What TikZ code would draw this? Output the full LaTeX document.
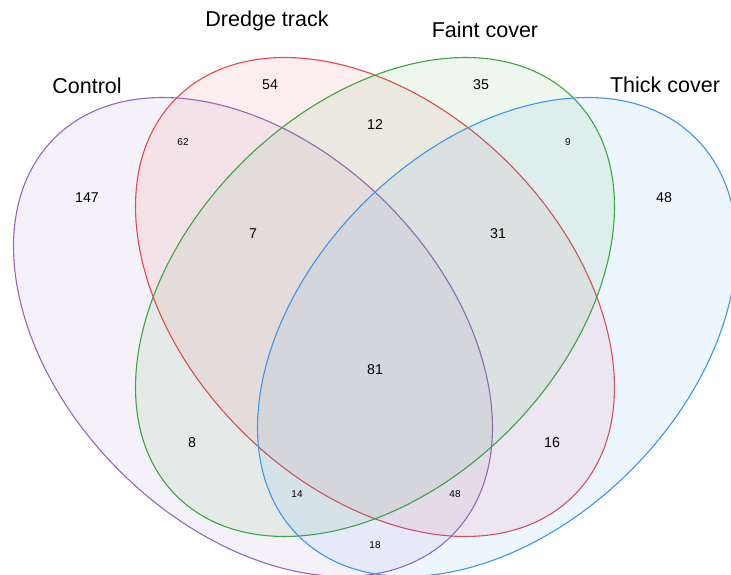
\documentclass[tikz,border=0pt]{standalone}
\usepackage{fontspec}
\setmainfont{Liberation Sans}
\definecolor{ctrlcol}{RGB}{148,103,189}
\definecolor{dredgecol}{RGB}{228,72,78}
\definecolor{faintcol}{RGB}{60,165,60}
\definecolor{thickcol}{RGB}{60,150,235}
\begin{document}
\begin{tikzpicture}[x=1pt,y=1pt,
    setname/.style={font=\fontsize{21.5}{24}\selectfont},
    count/.style={font=\fontsize{14.2}{16}\selectfont},
    tiny count/.style={font=\fontsize{10}{12}\selectfont},
    venn/.style={line width=1.1pt, draw=#1, fill=#1, fill opacity=0.09}]
    \useasboundingbox (0,0) rectangle (731,575);
    \clip (0,0) rectangle (731,575);

% the four sets
\draw[venn=ctrlcol]   (253,238) ellipse [x radius=281, y radius=189, rotate=-45];
\draw[venn=dredgecol] (375,278) ellipse [x radius=281, y radius=189, rotate=-45];
\draw[venn=faintcol]  (375,278) ellipse [x radius=281, y radius=189, rotate=45];
\draw[venn=thickcol]  (497,238) ellipse [x radius=281, y radius=189, rotate=45];

% set names
\node[setname] (ctrl) at (87,489) {Control};
\node[setname] (dredge) at (267,554) {Dredge track};
\node[setname] (faint) at (485,545) {Faint cover};
\node[setname] (thick) at (665,490) {Thick cover};

% counts
\node[count] (n1) at (87,377) {147};
\node[count] (n2) at (270,490) {54};
\node[count] (n3) at (481,490) {35};
\node[count] (n4) at (664,377) {48};
\node[tiny count] (n5) at (183,433) {62};
\node[count] (n6) at (375,450) {12};
\node[tiny count] (n7) at (568,433) {9};
\node[count] (n8) at (253,341) {7};
\node[count] (n9) at (498,341) {31};
\node[count] (n10) at (375,205) {81};
\node[count] (n11) at (192,132) {8};
\node[count] (n12) at (552,132) {16};
\node[tiny count] (n13) at (297,81) {14};
\node[tiny count] (n14) at (455,81) {48};
\node[tiny count] (n15) at (375,30) {18};

\end{tikzpicture}
\end{document}
